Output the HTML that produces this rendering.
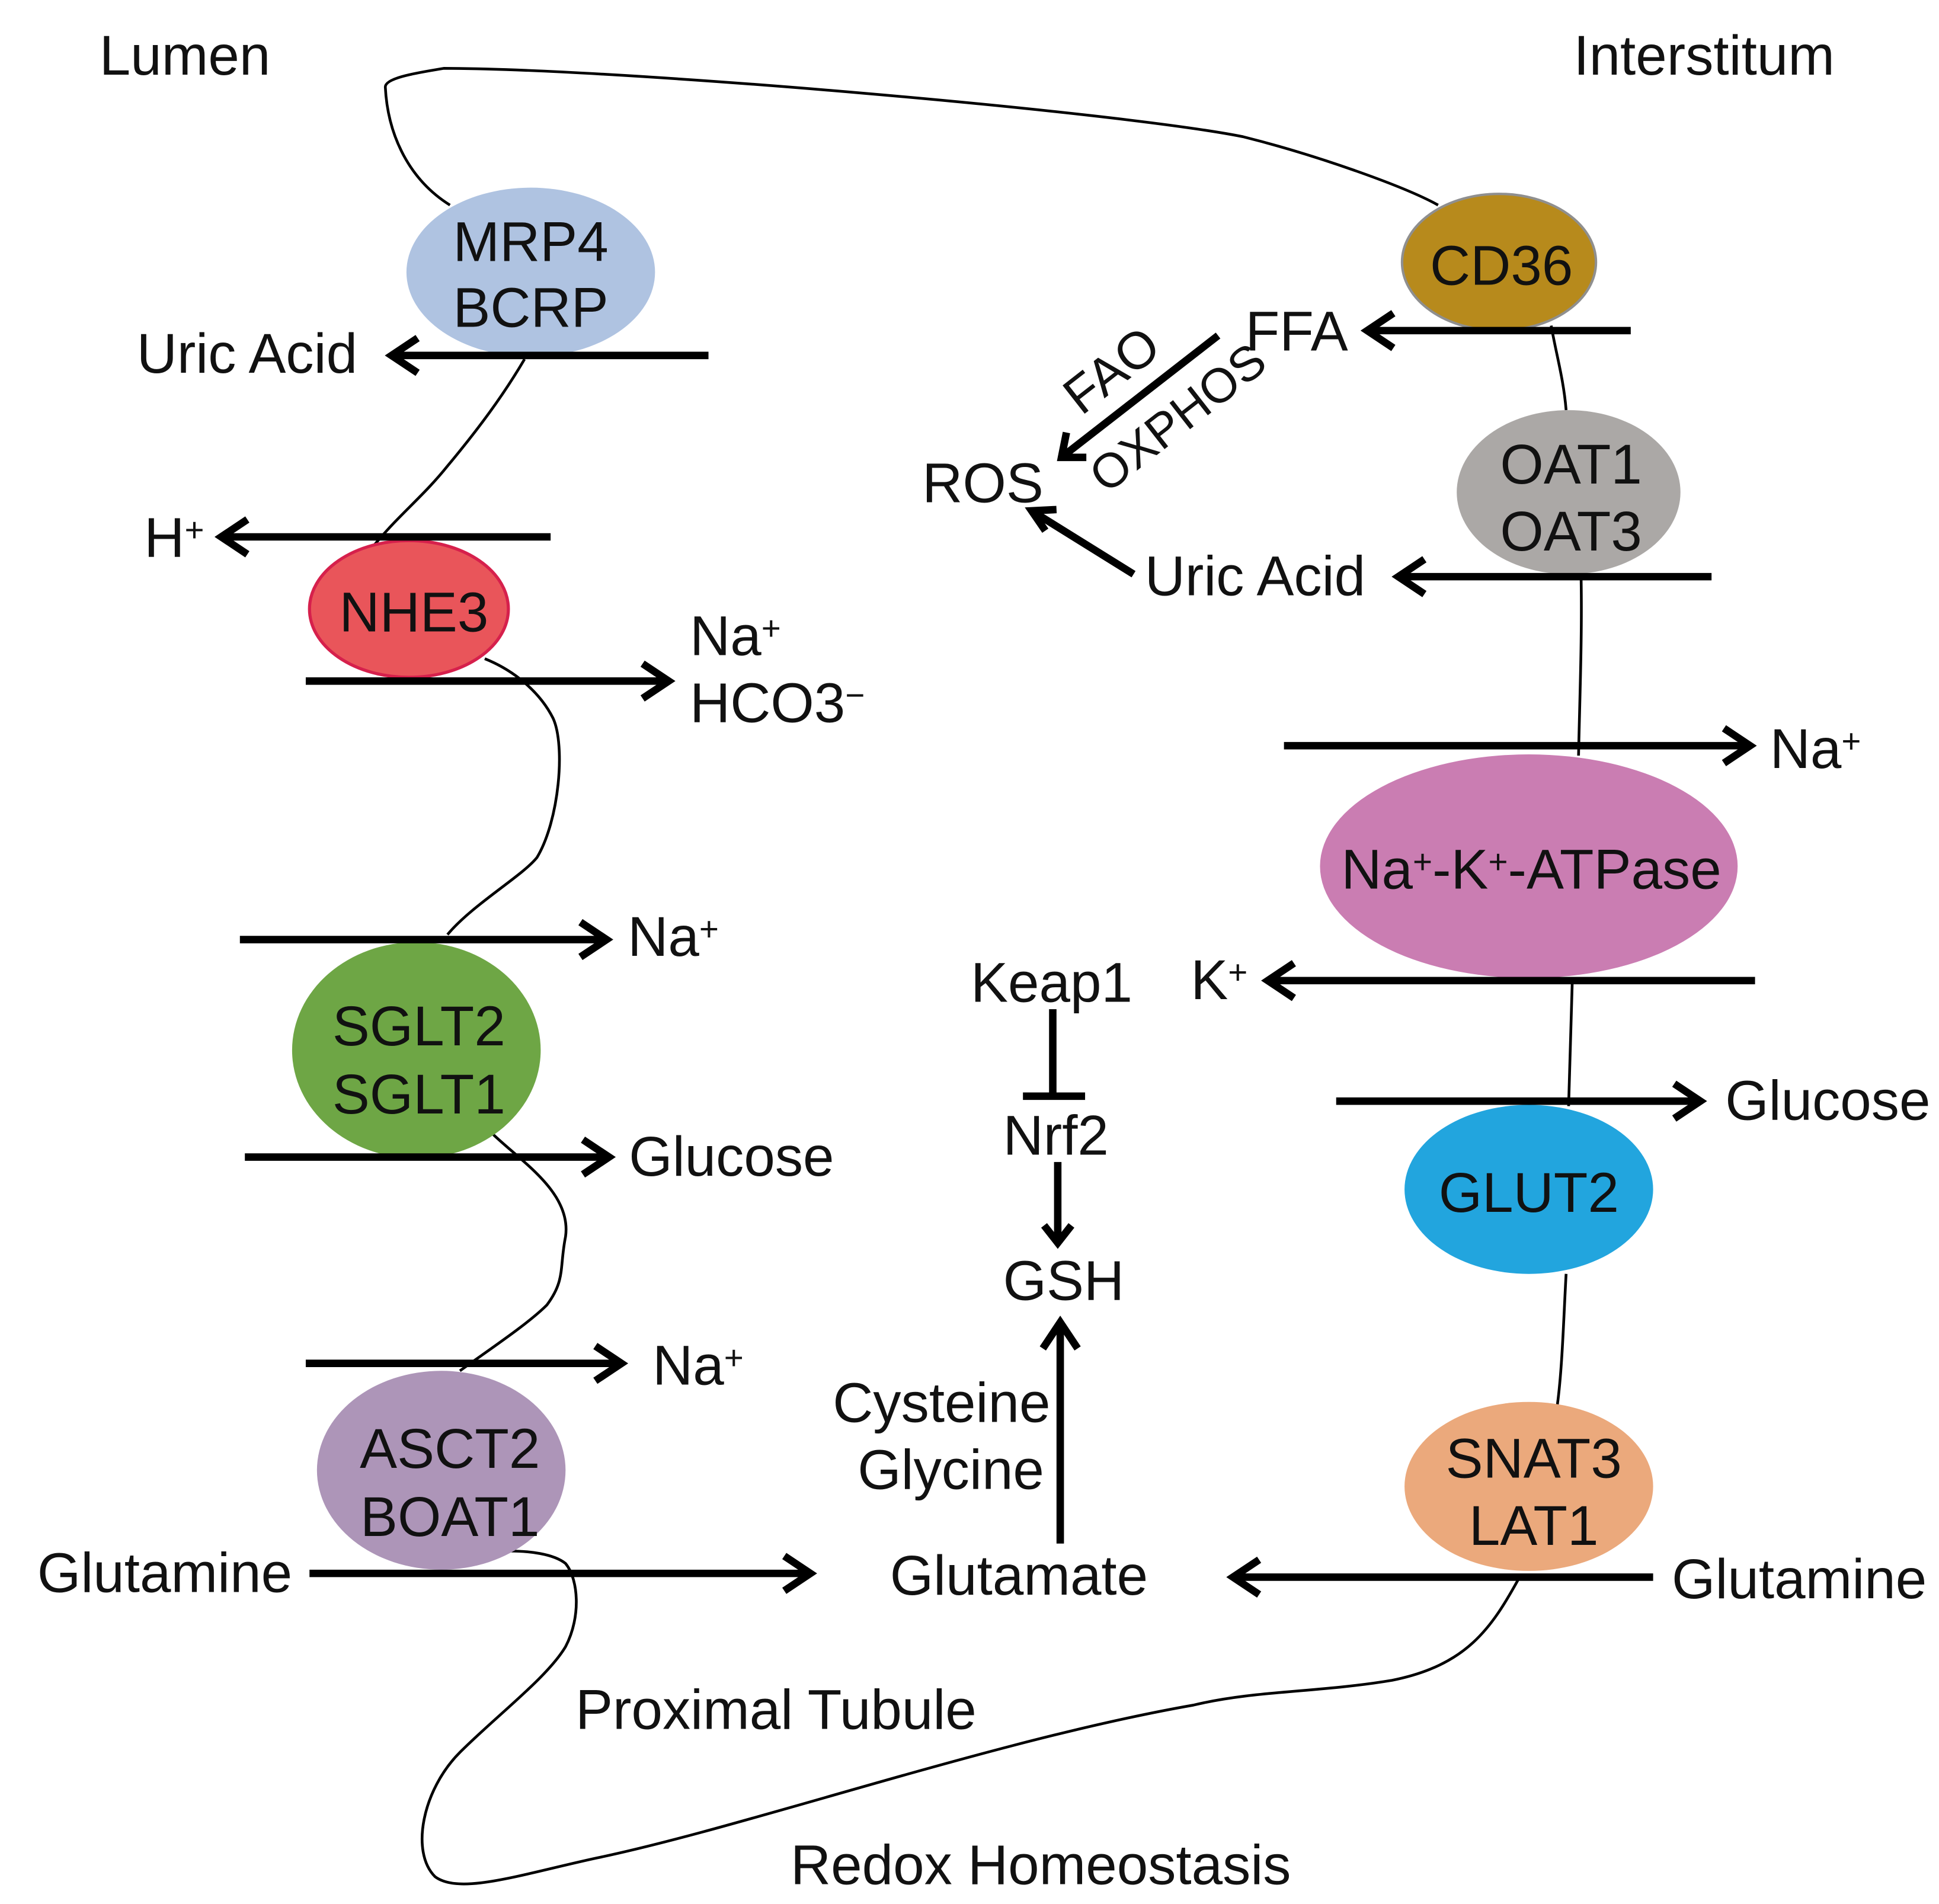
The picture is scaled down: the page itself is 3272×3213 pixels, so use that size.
<!DOCTYPE html>
<html><head><meta charset="utf-8"><style>
html,body{margin:0;padding:0;background:#fff;}
svg{display:block;}
text{font-family:"Liberation Sans",Arial,sans-serif;font-size:45px;fill:#111;}
.s{font-size:27px;baseline-shift:45%;}
</style></head><body>
<svg width="3272" height="3213" viewBox="0 0 1560 1532" preserveAspectRatio="none" xmlns="http://www.w3.org/2000/svg">
<!-- membrane -->
<g fill="none" stroke="#000" stroke-width="2.2">
<path d="M362,165 C330,145 312,110 310,70 C310,62 340,58 357,55 C500,55 900,90 1000,110 C1060,125 1130,150 1157,165"/>
<path d="M1248,262 C1252,285 1258,305 1260,330"/>
<path d="M1272,462 C1273,510 1271,560 1270,608"/>
<path d="M1265,788 C1264,825 1263,860 1262,890"/>
<path d="M1260,1025 C1258,1060 1257,1100 1253,1130"/>
<path d="M1222,1270 C1200,1310 1180,1340 1120,1352 C1060,1362 1010,1360 960,1372 C800,1400 600,1470 480,1495 C420,1508 370,1525 350,1510 C330,1490 340,1440 370,1410 C400,1380 440,1350 455,1325 C468,1300 465,1270 455,1258 C445,1250 425,1248 410,1248"/>
<path d="M370,1103 C395,1085 425,1065 440,1050 C455,1030 450,1020 455,995 C460,960 420,935 397,913"/>
<path d="M360,752 C380,728 420,705 432,690 C450,660 455,600 445,578 C435,558 415,540 390,530"/>
<path d="M300,440 C320,415 340,400 360,375 C385,345 405,318 422,289"/>
</g>
<!-- ellipses -->
<ellipse cx="427" cy="219" rx="100" ry="68" fill="#afc3e1"/>
<ellipse cx="1206" cy="211" rx="78" ry="55" fill="#b78a1c" stroke="#8f8f8f" stroke-width="2"/>
<ellipse cx="1262" cy="396" rx="90" ry="66" fill="#aba8a6"/>
<ellipse cx="329" cy="490" rx="80" ry="55" fill="#e9555a" stroke="#d6204c" stroke-width="2.5"/>
<ellipse cx="1230" cy="697" rx="168" ry="90" fill="#ca7db2"/>
<ellipse cx="335" cy="845" rx="100" ry="87" fill="#6ea645"/>
<ellipse cx="1230" cy="957" rx="100" ry="68" fill="#22a5de"/>
<ellipse cx="355" cy="1183" rx="100" ry="80" fill="#ad95b8"/>
<ellipse cx="1230" cy="1196" rx="100" ry="68" fill="#eba97c"/>
<!-- labels in ellipses -->
<g text-anchor="middle">
<text x="427" y="210">MRP4</text><text x="427" y="263">BCRP</text>
<text x="1208" y="229">CD36</text>
<text x="1264" y="389">OAT1</text><text x="1264" y="443">OAT3</text>
<text x="333" y="508">NHE3</text>
<text x="1232" y="715">Na<tspan class="s">+</tspan>-K<tspan class="s">+</tspan>-ATPase</text>
<text x="337" y="841">SGLT2</text><text x="337" y="896">SGLT1</text>
<text x="1230" y="975">GLUT2</text>
<text x="362" y="1181">ASCT2</text><text x="362" y="1236">BOAT1</text>
<text x="1234" y="1189">SNAT3</text><text x="1234" y="1243">LAT1</text>
</g>
<!-- arrows -->
<g fill="none" stroke="#000" stroke-width="6" stroke-linecap="butt" stroke-linejoin="miter">
<line x1="570" y1="286" x2="315" y2="286"/><polyline points="336,272 315,286 336,300"/>
<line x1="443" y1="432" x2="178" y2="432"/><polyline points="199,418 178,432 199,446"/>
<line x1="246" y1="548" x2="538" y2="548"/><polyline points="517,534 538,548 517,562"/>
<line x1="193" y1="756" x2="488" y2="756"/><polyline points="467,742 488,756 467,770"/>
<line x1="197" y1="931" x2="490" y2="931"/><polyline points="469,917 490,931 469,945"/>
<line x1="246" y1="1097" x2="500" y2="1097"/><polyline points="479,1083 500,1097 479,1111"/>
<line x1="249" y1="1266" x2="652" y2="1266"/><polyline points="631,1252 652,1266 631,1280"/>
<line x1="1330" y1="1269" x2="992" y2="1269"/><polyline points="1013,1255 992,1269 1013,1283"/>
<line x1="853" y1="1242" x2="853" y2="1064"/><polyline points="839,1085 853,1064 867,1085"/>
<line x1="851" y1="935" x2="851" y2="1000"/><polyline points="840,986 851,1000 862,986"/>
<line x1="847" y1="812" x2="847" y2="882"/><line x1="823" y1="882" x2="873" y2="882"/>
<line x1="1075" y1="886" x2="1368" y2="886"/><polyline points="1347,872 1368,886 1347,900"/>
<line x1="1412" y1="789" x2="1020" y2="789"/><polyline points="1041,775 1020,789 1041,803"/>
<line x1="1033" y1="600" x2="1408" y2="600"/><polyline points="1387,586 1408,600 1387,614"/>
<line x1="1377" y1="464" x2="1125" y2="464"/><polyline points="1146,450 1125,464 1146,478"/>
<line x1="1312" y1="266" x2="1100" y2="266"/><polyline points="1121,252 1100,266 1121,280"/>
<line x1="912" y1="462" x2="830" y2="411"/><polyline points="841,427 830,411 850,410"/>
<line x1="980" y1="270" x2="854" y2="368"/><polyline points="858,348 854,368 874,368"/>
</g>
<!-- text -->
<text x="80" y="60">Lumen</text>
<text x="1266" y="60">Interstitum</text>
<text x="110" y="300">Uric Acid</text>
<text x="116" y="448">H<tspan class="s">+</tspan></text>
<text x="555" y="527">Na<tspan class="s">+</tspan></text>
<text x="555" y="581">HCO3<tspan class="s">−</tspan></text>
<text x="505" y="769">Na<tspan class="s">+</tspan></text>
<text x="506" y="946">Glucose</text>
<text x="525" y="1114">Na<tspan class="s">+</tspan></text>
<text x="30" y="1281">Glutamine</text>
<text x="716" y="1283">Glutamate</text>
<text x="1345" y="1286">Glutamine</text>
<text x="670" y="1144">Cysteine</text>
<text x="690" y="1198">Glycine</text>
<text x="807" y="1046">GSH</text>
<text x="807" y="929">Nrf2</text>
<text x="781" y="806">Keap1</text>
<text x="1388" y="901">Glucose</text>
<text x="958" y="804">K<tspan class="s">+</tspan></text>
<text x="1424" y="618">Na<tspan class="s">+</tspan></text>
<text x="921" y="479">Uric Acid</text>
<text x="742" y="404">ROS</text>
<text x="1002" y="282">FFA</text>
<text x="0" y="0" transform="translate(870,335) rotate(-38)" style="font-size:42px">FAO</text>
<text x="0" y="0" transform="translate(890,398) rotate(-38)" style="font-size:39px">OXPHOS</text>
<text x="463" y="1391">Proximal Tubule</text>
<text x="636" y="1516">Redox Homeostasis</text>
</svg>
</body></html>
